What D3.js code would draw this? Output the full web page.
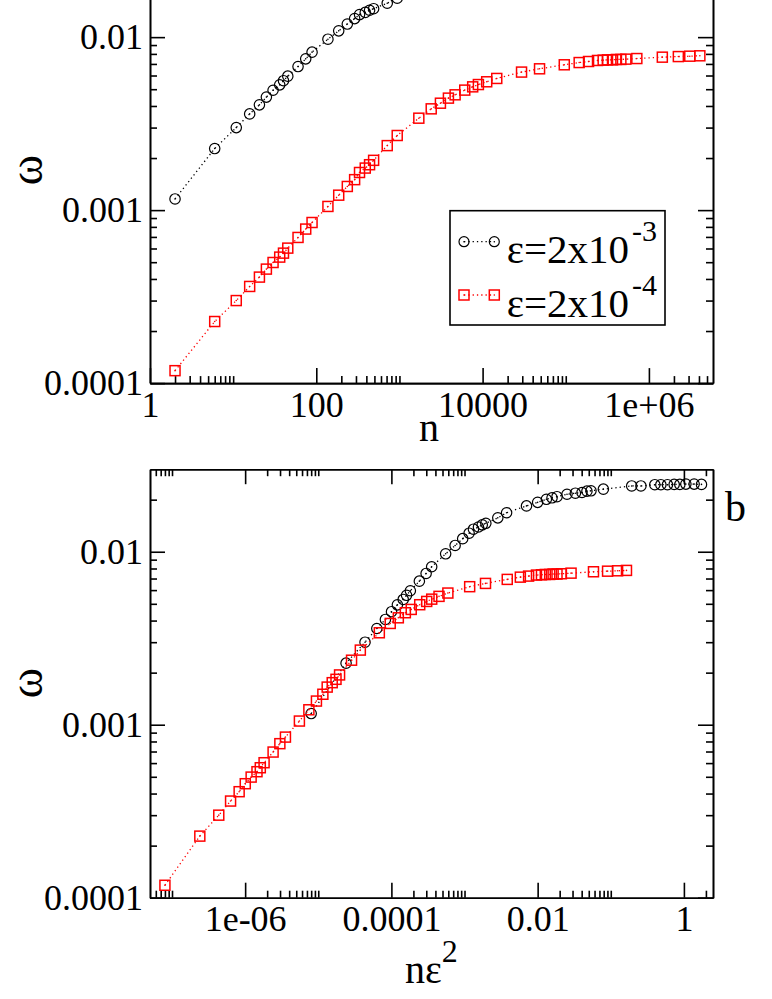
<!DOCTYPE html>
<html>
<head>
<meta charset="utf-8">
<script src="https://cdn.jsdelivr.net/npm/d3@7"></script>
<style>
body { margin: 0; background: #fff; }
svg text { font-family: "Liberation Serif", "DejaVu Serif", serif; }
.domain, .tick line { stroke: #000; stroke-width: 1.6; }
</style>
</head>
<body>
<svg id="chart" width="772" height="999"></svg>
<script>
// omega(n) for the two noise levels
var epsBlack = 2e-3;
var epsRed = 2e-4;

var nBlack = [2, 6, 10.9, 15.8, 20.7, 25.1, 30.2, 36.3, 40.3, 45.4, 60.3, 74.6, 88.9,
  138, 186, 236, 289, 331, 388, 437, 489, 713, 940, 1760, 2500, 3290, 3935, 4600,
  6300, 8200, 10100, 11800, 13400, 19800, 48300, 64600, 100000, 121000, 149000,
  184000, 220000, 266000, 345000, 435000];
var wBlack = [1.16e-3, 2.27e-3, 3.0e-3, 3.6e-3, 4.06e-3, 4.5e-3, 4.93e-3, 5.3e-3, 5.6e-3,
  5.95e-3, 6.76e-3, 7.49e-3, 8.19e-3, 9.73e-3, 1.087e-2, 1.19e-2, 1.28e-2, 1.35e-2,
  1.39e-2, 1.43e-2, 1.46e-2, 1.57e-2, 1.68e-2, 1.84e-2, 1.93e-2, 2.01e-2, 2.05e-2,
  2.08e-2, 2.15e-2, 2.18e-2, 2.2e-2, 2.24e-2, 2.25e-2, 2.3e-2, 2.4e-2, 2.4e-2,
  2.44e-2, 2.44e-2, 2.44e-2, 2.45e-2, 2.45e-2, 2.46e-2, 2.46e-2, 2.45e-2];

var nRed = [2, 6, 10.9, 15.8, 20.7, 25.1, 30.2, 36.3, 40.3, 45.4, 60.3, 74.6, 88.9,
  138, 186, 236, 289, 331, 388, 437, 489, 713, 940, 1710, 2410, 3110, 3880, 4670,
  6100, 7600, 8900, 11200, 14800, 29400, 48400, 96000, 145000, 188000, 241000,
  282000, 318000, 365000, 407000, 460000, 528000, 716000, 1450000, 2260000,
  3100000, 4100000];
var wRed = [1.18e-4, 2.27e-4, 3.0e-4, 3.62e-4, 4.1e-4, 4.56e-4, 4.98e-4, 5.35e-4, 5.64e-4,
  6.03e-4, 6.95e-4, 7.77e-4, 8.48e-4, 1.05e-3, 1.22e-3, 1.37e-3, 1.5e-3, 1.65e-3,
  1.75e-3, 1.83e-3, 1.94e-3, 2.36e-3, 2.7e-3, 3.4e-3, 3.85e-3, 4.15e-3, 4.44e-3,
  4.64e-3, 4.94e-3, 5.16e-3, 5.32e-3, 5.52e-3, 5.77e-3, 6.28e-3, 6.56e-3, 6.92e-3,
  7.13e-3, 7.23e-3, 7.33e-3, 7.36e-3, 7.39e-3, 7.39e-3, 7.43e-3, 7.43e-3, 7.46e-3,
  7.52e-3, 7.66e-3, 7.72e-3, 7.76e-3, 7.8e-3];

var yDomain = [1e-4, 0.03];
var yTicks = [1e-4, 1e-3, 1e-2];
var yLabels = ["0.0001", "0.001", "0.01"];

var xTopDomain = [1, 5.9e6];
var xTopTicks = [1, 100, 1e4, 1e6];
var xTopLabels = ["1", "100", "10000", "1e+06"];

var xBotDomain = [5e-8, 2.5];
var xBotTicks = [1e-8, 1e-6, 1e-4, 1e-2, 1];
var xBotLabels = ["", "1e-06", "0.0001", "0.01", "1"];

var svg = d3.select("#chart");
var L = 150, W = 563, H = 428.5;
var tickFont = 36;
var serif = "Liberation Serif, DejaVu Serif, serif";

// minor ticks at 2..10 x each major, kept inside the domain
function minors(majors, dom) {
  var out = [];
  majors.forEach(function(m) {
    for (var k = 2; k <= 10; k++) {
      var v = m * k;
      if (v > dom[0] * 1.0001 && v < dom[1] * 0.9999 && majors.indexOf(v) < 0) out.push(v);
    }
  });
  return out;
}

function inside(vals, dom) {
  return vals.filter(function(v) { return v >= dom[0] * 0.9999 && v <= dom[1] * 1.0001; });
}

function drawPanel(top, xDom, xMaj, xLab, xOf) {
  var g = svg.append("g").attr("transform", "translate(" + L + "," + top + ")");
  var x = d3.scaleLog().domain(xDom).range([0, W]);
  var y = d3.scaleLog().domain(yDomain).range([H, 0]);
  var xM = inside(xMaj, xDom);
  var xm = minors(xMaj, xDom);
  var yM = yTicks;
  var ym = minors([1e-4, 1e-3, 1e-2], yDomain);
  var fmtX = function(d) { return xLab[xMaj.indexOf(d)]; };
  var fmtY = function(d) { return yLabels[yTicks.indexOf(d)]; };

  function ax(gen, tr, vals, len, fmt, pad) {
    var a = g.append("g").attr("transform", tr)
      .call(gen.tickValues(vals).tickFormat(fmt || "").tickSizeInner(-len).tickSizeOuter(0).tickPadding(pad || 3));
    a.attr("font-family", serif).attr("font-size", tickFont);
    a.selectAll("text").attr("fill", "#000").style("font-family", serif);
    return a;
  }
  ax(d3.axisBottom(x), "translate(0," + H + ")", xm, 7);
  ax(d3.axisBottom(x), "translate(0," + H + ")", xM, 15, fmtX, 8);
  ax(d3.axisTop(x), "translate(0,0)", xm, 7);
  ax(d3.axisTop(x), "translate(0,0)", xM, 15);
  ax(d3.axisLeft(y), "translate(0,0)", ym, 7);
  ax(d3.axisLeft(y), "translate(0,0)", yM, 15, fmtY, 7);
  ax(d3.axisRight(y), "translate(" + W + ",0)", ym, 7);
  ax(d3.axisRight(y), "translate(" + W + ",0)", yM, 15);

  function series(ns, ws, eps, color, shape) {
    var pts = ns.map(function(n, i) { return [xOf(n, eps), ws[i]]; });
    var line = d3.line().x(function(d) { return x(d[0]); }).y(function(d) { return y(d[1]); });
    g.append("path").datum(pts).attr("d", line)
      .attr("fill", "none").attr("stroke", color).attr("stroke-width", 1.3)
      .attr("stroke-dasharray", "1.3,3");
    var m = g.append("g").selectAll("g").data(pts).join("g")
      .attr("transform", function(d) { return "translate(" + x(d[0]) + "," + y(d[1]) + ")"; });
    if (shape === "circle") {
      m.append("circle").attr("r", 5.2).attr("fill", "none").attr("stroke", color).attr("stroke-width", 1.2);
    } else {
      m.append("rect").attr("x", -5).attr("y", -5).attr("width", 10).attr("height", 10)
        .attr("fill", "none").attr("stroke", color).attr("stroke-width", 1.5);
    }
    m.append("circle").attr("r", 0.8).attr("fill", color);
  }
  series(nBlack, wBlack, epsBlack, "#000", "circle");
  series(nRed, wRed, epsRed, "#ff0000", "square");
  return g;
}

// panel a: omega vs n (its top edge lies above the picture)
drawPanel(-45.4, xTopDomain, xTopTicks, xTopLabels, function(n) { return n; });
// panel b: omega vs n*eps^2
drawPanel(469.2, xBotDomain, xBotTicks, xBotLabels, function(n, e) { return n * e * e; });

function txt(x, y, size) {
  return svg.append("text").attr("x", x).attr("y", y).attr("font-size", size)
    .attr("font-family", serif).style("font-family", serif);
}

// axis titles
function omega(cy) {
  svg.append("text").attr("transform", "translate(42," + cy + ") rotate(-90)")
    .attr("text-anchor", "middle").attr("font-size", 46)
    .attr("font-family", serif).style("font-family", serif).text("ω");
}
omega(170);
omega(683);
txt(429, 441, 40).attr("text-anchor", "middle").text("n");
var t2 = txt(405, 983, 40);
t2.append("tspan").text("nε");
t2.append("tspan").attr("font-size", 32).attr("dy", -21).text("2");
txt(725, 521, 42).text("b");

// legend
var leg = [
  {color: "#000", shape: "circle", label: "ε=2x10", sup: "-3", y: 241.7},
  {color: "#ff0000", shape: "square", label: "ε=2x10", sup: "-4", y: 295}
];
svg.append("rect").attr("x", 450).attr("y", 210.7).attr("width", 215).attr("height", 114.3)
  .attr("fill", "#fff").attr("stroke", "#000").attr("stroke-width", 1.6);
leg.forEach(function(d) {
  svg.append("line").attr("x1", 464).attr("x2", 494.3).attr("y1", d.y).attr("y2", d.y)
    .attr("stroke", d.color).attr("stroke-width", 1.3).attr("stroke-dasharray", "1.3,3");
  [464, 494.3].forEach(function(cx) {
    if (d.shape === "circle") {
      svg.append("circle").attr("cx", cx).attr("cy", d.y).attr("r", 5)
        .attr("fill", "none").attr("stroke", d.color).attr("stroke-width", 1.2);
    } else {
      svg.append("rect").attr("x", cx - 5).attr("y", d.y - 5).attr("width", 10).attr("height", 10)
        .attr("fill", "none").attr("stroke", d.color).attr("stroke-width", 1.5);
    }
    svg.append("circle").attr("cx", cx).attr("cy", d.y).attr("r", 0.8).attr("fill", d.color);
  });
  var t = txt(506.7, d.y + 21.5, 41);
  t.append("tspan").text(d.label);
  t.append("tspan").attr("font-size", 30).attr("dy", -22).attr("dx", 3).text(d.sup);
});
</script>
</body>
</html>
